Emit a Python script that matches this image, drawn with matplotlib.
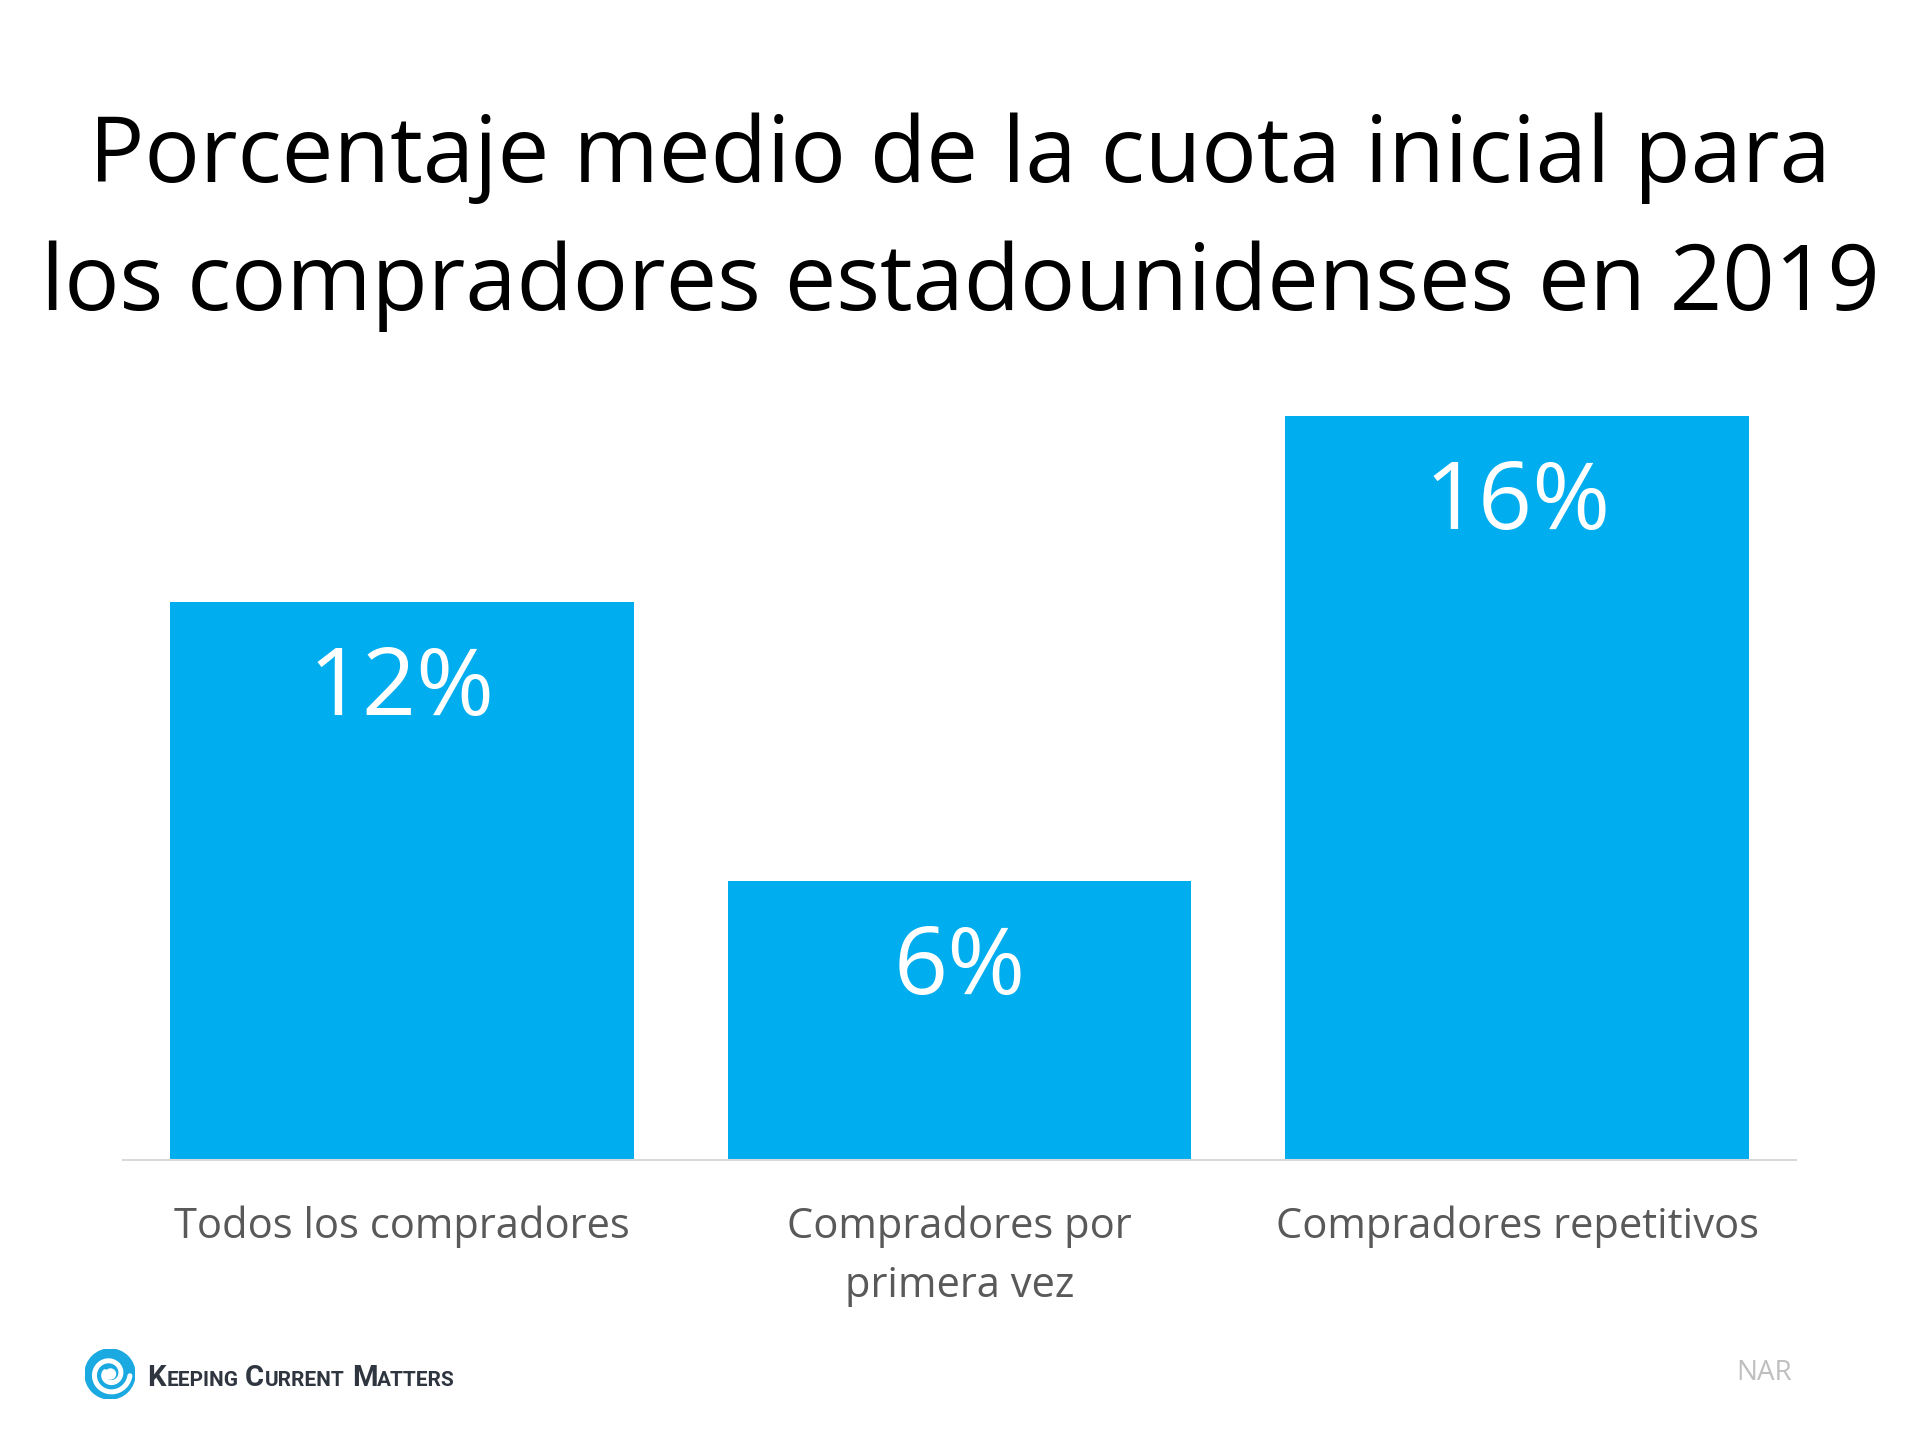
import numpy as np
import matplotlib
matplotlib.use('Agg')
import matplotlib.pyplot as plt
from matplotlib.patches import Circle

categories = ['Todos los compradores', 'Compradores por\nprimera vez', 'Compradores repetitivos']
values = [12, 6, 16]
bar_labels = ['12%', '6%', '16%']
title_lines = ['Porcentaje medio de la cuota inicial para', 'los compradores estadounidenses en 2019']

plt.rcParams['font.family'] = ['Open Sans', 'DejaVu Sans']

W, H = 1920, 1440
fig = plt.figure(figsize=(W/100, H/100), dpi=100, facecolor='white')

ax = fig.add_axes([123/W, 1-1160/H, (1796-123)/W, (1160-415.5)/H])
x = [0, 1, 2]
ax.bar(x, values, width=0.832, color='#00AEEF')
ax.set_xlim(-0.5, 2.5)
ax.set_ylim(0, 16)
ax.set_xticks(x)
ax.set_yticks([])
ax.tick_params(axis='x', length=0, pad=33, labelsize=30, labelcolor='#595959')
ax.set_xticklabels(categories, linespacing=1.52)
for s in ['top', 'left', 'right']:
    ax.spines[s].set_visible(False)
ax.spines['bottom'].set_color('#D9D9D9')
ax.spines['bottom'].set_linewidth(1.5)

for i in x:
    ax.annotate(bar_labels[i], (i, values[i]), xytext=(0, -42), textcoords='offset pixels',
                ha='center', va='top', color='white', fontsize=68)

fig.text(0.5, 1-158/H, title_lines[0], ha='center', va='center', fontsize=66.4, color='black')
fig.text(0.5, 1-286/H, title_lines[1], ha='center', va='center', fontsize=66.2, color='black')

# logo
logo = fig.add_axes([85/W, 1-1399/H, 50/W, 50/H])
logo.set_xlim(-1, 1)
logo.set_ylim(-1, 1)
logo.axis('off')
logo.add_patch(Circle((0, 0), 1, color='#1BA9E1'))
t = np.linspace(np.radians(-5), np.radians(-5-560), 200)
r = np.linspace(0.80, 0.22, 200)
logo.plot(r*np.cos(t), r*np.sin(t), color='white', lw=3.6, solid_capstyle='round')
logo.add_patch(Circle((0.02, 0.0), 0.2, color='white'))

logo_font = ['Roboto', 'Open Sans']
logo_parts = [(147, 'K', 21), (167, 'EEPING', 15), (245, 'C', 21), (265, 'URRENT', 15),
              (352, 'M', 21), (377, 'ATTERS', 15)]
for px, word, size in logo_parts:
    fig.text(px/W, 1-1386/H, word, fontsize=size, color='#2F3640', va='baseline',
             fontweight='bold', family=logo_font)

fig.text(1764/W, 1-1373/H, 'NAR', fontsize=20, color='#BFBFBF', ha='center', va='center')

fig.savefig('out.png', dpi=100, facecolor='white')
